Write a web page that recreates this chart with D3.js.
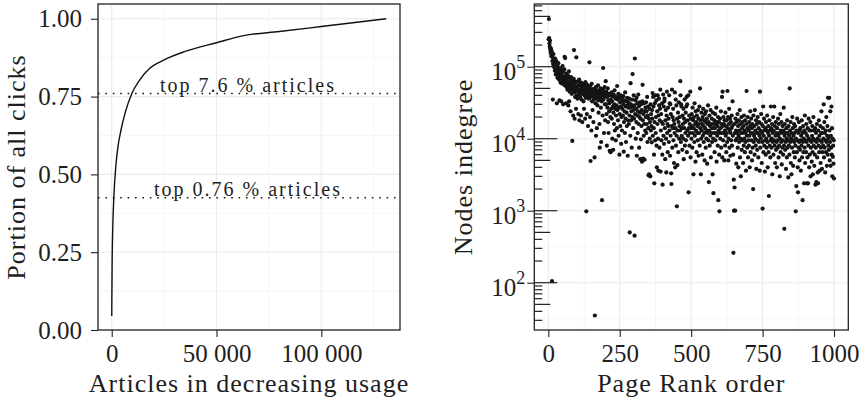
<!DOCTYPE html>
<html>
<head>
<meta charset="utf-8">
<script src="https://cdn.jsdelivr.net/npm/d3@7"></script>
<style>
  body { margin: 0; background: #fff; }
  svg { display: block; background: #fff; }
  .grid-major { stroke: #ebebeb; stroke-width: 1.1; }
  .grid-minor { stroke: #f4f4f4; stroke-width: 0.8; }
  .axis path { display: none; }
  .axis line { stroke: #222; stroke-width: 1.1; }
  .axis text { font-family: "Liberation Serif", serif; font-size: 25px; fill: #1e1e1e; }
  .title { font-family: "Liberation Serif", serif; font-size: 26px; letter-spacing: 1px; fill: #1e1e1e; }
  .note { font-family: "Liberation Serif", serif; font-size: 20px; letter-spacing: 2px; fill: #1e1e1e; }
</style>
</head>
<body>
<svg width="864" height="401"></svg>
<script>
  (function(){
    'use strict';

    // left panel: cumulative share of clicks
    var articlesRank = [0, 200, 500, 1000, 2000, 3000, 4500, 6500, 9600, 13000, 18000,
      25000, 35000, 50000, 63000, 80000, 100000, 131000];
    var clickShare = [0.045, 0.22, 0.33, 0.425, 0.53, 0.59, 0.645, 0.7, 0.76, 0.8, 0.84,
      0.868, 0.895, 0.923, 0.946, 0.959, 0.975, 1.0];
    var thresholds = [0.76, 0.425];
    var thresholdLabels = ['top 7.6 % articles', 'top 0.76 % articles'];
    var leftXTicks = [0, 50000, 100000];
    var leftYTicks = [0, 0.25, 0.5, 0.75, 1];

    // right panel: indegree (thousands) for page rank order 1..1000
    var indegreeK = [
      240,460,250,210,190,230,175,160,180,150,140,165,0.105,120,135,35,110,150,105,125,
      98,115,88,130,95,78,108,120,85,31,92,70,100,82,112,75,90,66,34,84,
      72,95,60,80,33,68,88,76,58,102,64,30,85,71,62,92,137,55,132,74,
      66,31,58,80,52,70,48,62,75,29,54,86,33,60,45,68,57,24,50,72,
      55,42,64,9.3,48,60,21,52,68,170,44,19,58,38,62,47,26,135,53,40,
      50,36,62,45,22,55,41,66,18,48,57,38,44,21,60,35,52,46,17,54,
      42,58,33,49,26,55,40,45,19,61,37,50,0.98,43,22,56,39,47,15,52,
      44,36,50,115,41,20,54,4.9,38,46,13,58,33,43,25,49,39,17,45,35,
      48,5.5,0.035,40,31,52,11,44,37,14,47,29,42,55,34,23,45,38,16,7.5,
      43,36,50,27,9,46,33,1.4,40,21,48,96,35,44,12,38,52,30,18,42,
      63,30,45,22,8,38,27,50,17,34,12,42,24,31,6.8,40,20,6.5,35,26,
      44,19,33,10,39,28,7,23,41,16,30,47,13,26,36,9.5,21,38,29,14,
      54,25,35,18,42,11,27,37,6,22,32,15,40,28,8.5,20,36,13,26,33,
      21,39,30,6.6,17,34,24,12,44,19,28,9,33,23,15,37,29,5.8,18,27,
      32,16,36,21,0.5,27,11,59,30,18,24,7.5,35,20,79,28,14,25,40,19,
      29,0.45,130,22,34,10,26,17,37,5.8,21,31,12,24,41,16,28,7.5,20,32,
      23,5.2,19,9.8,30,15,25,4.8,33,56,18,5.3,22,11,31,16,5.1,24,13,27,
      20,32,12,24,16,38,9,21,28,14,3.1,19,3.2,26,10,17,3.0,30,13,22,
      15,8.9,25,19,43,11,38,28,14,6,2.4,17,31,9.5,40,12,20,34,8,4,
      24,16,40,10,3.6,21,36,29,7.5,18,26,48,3.5,13,22,9.5,17,31,6,2.3,
      16,41,11,28,8.5,33,36,14,5.2,18,25,10,3.4,21,45,12,16,6.5,27,15,
      19,9,40,13,31,5.8,30,11,22,3.3,2.35,15,48,7.5,20,14,26,9.5,18,4.6,
      16,12,44,4,14,35,8,29,11,1.15,19,4.3,13,23,6.5,17,32,10,15,20,
      13,63,40,9,30,28,11,14,7,21,16,10,26,5.2,19,14,35,8,17,12,
      23,9.5,28,38,6.5,30,13,18,11,40,1.8,14,21,8,16,12,45,5.5,19,14,
      10,22,15,7.5,27,12,18,3.2,14,20,9,31,11,16,4.8,24,13,17,6.5,21,
      12,15,9.5,25,19,5.8,16,12,28,8,50,14,18,3.2,10,23,13,16,6,20,
      11,26,15,9,18,12,5,22,14,17,7.5,24,10,13,19,4.5,16,12,29,9.5,
      17,2.5,13,21,8,15,11,25,5.5,16,12,19,9,14,3.2,23,10,1.75,16,12,
      18,6.5,14,22,9.5,16,12,27,4.8,17,11,15,8,20,1.4,13,17,6,0.98,12,
      19,10,14,24,7.5,16,12,38,5.5,45,15,9.5,20,12,16,5,18,13,8,23,
      11,15,6.5,18,12,9,46,14,20,5,10,16,26,7.5,13,19,5.8,12,17,9.5,
      14,21,8,15,33,11,6,0.26,2.7,1.0,16,2.1,12,1.0,19,9.5,13,4.5,17,10,
      12,22,7.5,15,4,11,18,9,13,25,5.5,16,10,3,12,20,7,14,9.5,17,
      12,4.6,15,8,21,10,13,6.5,18,9,12,3.6,16,46,11,7.5,14,20,5.5,9.5,
      13,8,17,11,4,15,24,6.5,12,19,9.5,14,5,16,7.5,12,2.0,21,9,11,
      15,6,25,10,13,8,18,3.8,12,16,7,9.5,20,12,5.5,14,9,17,11,3.6,
      45,7.5,13,10,22,16,4.6,12,9,1.07,15,28,6.5,11,19,8,13,3.5,9.5,14,
      6,17,10,7.5,13,21,9,4,12,15,6.5,1.6,11,18,8,13,5.5,9.5,28,14,
      7.5,10,16,3.2,12,9,20,6,13,9.5,28,8,15,4.6,11,17,7,12,9,4,
      14,9.5,7.5,19,11,5.5,16,8,12,3,10,22,6.5,13,9,17,4.4,12,7.5,15,
      9.5,6,13,27,8,0.56,11,16,7,12,9,3.8,14,10,5.5,18,7.5,12,9.5,2.9,
      15,8,11,6,50,13,9,17,4.6,10,3.2,12,7.5,20,9.5,14,4.2,11,6.5,16,
      9,12,5.5,15,8,0.98,10,2.2,13,6.5,19,9.5,4,1.8,12,7.5,17,9,5,13,
      7,14,9.5,3.6,11,8,18,5.5,12,1.4,9,15,6.5,10,2.4,13,7.5,21,4.6,9.5,
      12,6.5,16,9,2.4,11,5.5,14,2.4,8,19,10,4,13,6,9.5,17,3,7.5,13,
      9,4.8,11,15,6.5,3.2,10,20,8,13,4.2,9.5,6,14,2.3,7.5,12,2.5,9,16,
      5.5,10,3.4,2.4,13,8,18,6.5,11,3.6,9.5,15,4.6,7.5,12,24,9,3.8,12,6.5,
      14,8,10,30,5.5,17,7.5,12,3.4,9.5,13,6.5,20,9,4.2,11,15,6,37,8,
      10,7,37,13,5,9,24,4.2,11,7.5,28,6,14,3,10,5.6,8,4.5,9.5,2.8
    ];
    var rightXTicks = [0, 250, 500, 750, 1000];
    var rightYTicks = [1e2, 1e3, 1e4, 1e5];

    var svg = d3.select('svg');

    var leftPanel = { left: 98, right: 400, top: 4, bottom: 330 };
    var rightPanel = { left: 534.3, right: 848.3, top: 4, bottom: 330 };

    var xLeft = d3.scaleLinear().domain([-6550, 137550]).range([leftPanel.left, leftPanel.right]);
    var yLeft = d3.scaleLinear().domain([0, 1.0475]).range([leftPanel.bottom, leftPanel.top]);
    var xRight = d3.scaleLinear().domain([-49, 1050]).range([rightPanel.left, rightPanel.right]);
    var yRight = d3.scaleLog().domain([22.03, 743000]).range([rightPanel.bottom, rightPanel.top]);

    var points = indegreeK.map(function(v, i) {
      return { rank: i + 1, value: v * 1000 };
    });

    function grid(p, xs, ys, xv, yv, cls) {
      var g = svg.append('g');
      g.selectAll('line.v').data(xv).enter().append('line')
        .attr('class', cls)
        .attr('x1', function(d) { return xs(d); })
        .attr('x2', function(d) { return xs(d); })
        .attr('y1', p.top).attr('y2', p.bottom);
      g.selectAll('line.h').data(yv).enter().append('line')
        .attr('class', cls)
        .attr('y1', function(d) { return ys(d); })
        .attr('y2', function(d) { return ys(d); })
        .attr('x1', p.left).attr('x2', p.right);
    }

    grid(leftPanel, xLeft, yLeft, [25000, 75000, 125000], [0.125, 0.375, 0.625, 0.875], 'grid-minor');
    grid(leftPanel, xLeft, yLeft, leftXTicks, leftYTicks, 'grid-major');
    grid(rightPanel, xRight, yRight, [125, 375, 625, 875],
      [Math.pow(10, 1.5), Math.pow(10, 2.5), Math.pow(10, 3.5), Math.pow(10, 4.5), Math.pow(10, 5.5)], 'grid-minor');
    grid(rightPanel, xRight, yRight, rightXTicks, rightYTicks, 'grid-major');

    // left: threshold lines
    svg.append('g').selectAll('line').data(thresholds).enter().append('line')
      .attr('x1', leftPanel.left).attr('x2', leftPanel.right)
      .attr('y1', function(d) { return yLeft(d); })
      .attr('y2', function(d) { return yLeft(d); })
      .attr('stroke', '#1a1a1a')
      .attr('stroke-width', 1.6)
      .attr('stroke-dasharray', '1.6,5.8');

    svg.append('g').selectAll('text').data(thresholds).enter().append('text')
      .attr('class', 'note')
      .attr('x', xLeft(65000))
      .attr('y', function(d) { return yLeft(d) - 1.5; })
      .attr('text-anchor', 'middle')
      .text(function(d, i) { return thresholdLabels[i]; });

    var line = d3.line()
      .x(function(d, i) { return xLeft(articlesRank[i]); })
      .y(function(d) { return yLeft(d); })
      .curve(d3.curveMonotoneX);

    svg.append('path')
      .attr('d', line(clickShare))
      .attr('fill', 'none')
      .attr('stroke', '#111')
      .attr('stroke-width', 1.4);

    // right: scatter
    svg.append('g').selectAll('circle').data(points).enter().append('circle')
      .attr('cx', function(d) { return xRight(d.rank); })
      .attr('cy', function(d) { return yRight(d.value); })
      .attr('r', 2.1)
      .attr('fill', '#141414');

    // log ticks inside the right panel
    var logTicks = [];
    [1, 2, 3, 4, 5].forEach(function(k) {
      for (var m = 1; m <= 9; m++) {
        var v = m * Math.pow(10, k);
        if (v >= yRight.domain()[0] && v <= yRight.domain()[1]) logTicks.push({ v: v, m: m });
      }
    });
    svg.append('g').selectAll('line').data(logTicks).enter().append('line')
      .attr('x1', rightPanel.left)
      .attr('x2', function(d) { return rightPanel.left + (d.m === 1 ? 23 : d.m === 5 ? 16 : 8); })
      .attr('y1', function(d) { return yRight(d.v); })
      .attr('y2', function(d) { return yRight(d.v); })
      .attr('stroke', '#222')
      .attr('stroke-width', 1.2);

    // panel borders
    [leftPanel, rightPanel].forEach(function(p) {
      svg.append('rect')
        .attr('x', p.left).attr('y', p.top)
        .attr('width', p.right - p.left).attr('height', p.bottom - p.top)
        .attr('fill', 'none')
        .attr('stroke', '#222')
        .attr('stroke-width', 1.3);
    });

    var spaceFormat = d3.formatLocale({ decimal: '.', thousands: ' ', grouping: [3], currency: ['', ''] }).format(',');

    svg.append('g')
      .attr('class', 'axis')
      .attr('transform', 'translate(0,' + leftPanel.bottom + ')')
      .call(d3.axisBottom(xLeft).tickValues(leftXTicks).tickFormat(spaceFormat).tickSize(7).tickPadding(7));

    svg.append('g')
      .attr('class', 'axis')
      .attr('transform', 'translate(' + leftPanel.left + ',0)')
      .call(d3.axisLeft(yLeft).tickValues(leftYTicks).tickFormat(d3.format('.2f')).tickSize(7).tickPadding(9));

    svg.append('g')
      .attr('class', 'axis')
      .attr('transform', 'translate(0,' + rightPanel.bottom + ')')
      .call(d3.axisBottom(xRight).tickValues(rightXTicks).tickFormat(d3.format('d')).tickSize(7).tickPadding(7));

    var yAxisRight = svg.append('g')
      .attr('class', 'axis')
      .attr('transform', 'translate(' + rightPanel.left + ',0)')
      .call(d3.axisLeft(yRight).tickValues(rightYTicks).tickFormat(function() { return ''; }).tickSize(7).tickPadding(2));

    yAxisRight.selectAll('.tick text').each(function(d) {
      var t = d3.select(this).attr('dy', '0.5em');
      t.append('tspan').text('10');
      t.append('tspan').attr('dy', -12).style('font-size', '18px').text(Math.round(Math.log10(d)));
    });

    // axis titles
    svg.append('text').attr('class', 'title')
      .attr('x', (leftPanel.left + leftPanel.right) / 2).attr('y', 392)
      .attr('text-anchor', 'middle')
      .text('Articles in decreasing usage');

    svg.append('text').attr('class', 'title')
      .attr('transform', 'translate(25,' + (leftPanel.top + leftPanel.bottom) / 2 + ') rotate(-90)')
      .attr('text-anchor', 'middle')
      .text('Portion of all clicks');

    svg.append('text').attr('class', 'title')
      .attr('x', (rightPanel.left + rightPanel.right) / 2).attr('y', 392)
      .attr('text-anchor', 'middle')
      .text('Page Rank order');

    svg.append('text').attr('class', 'title')
      .attr('transform', 'translate(472,' + (rightPanel.top + rightPanel.bottom) / 2 + ') rotate(-90)')
      .attr('text-anchor', 'middle')
      .text('Nodes indegree');
  })();
</script>
</body>
</html>
